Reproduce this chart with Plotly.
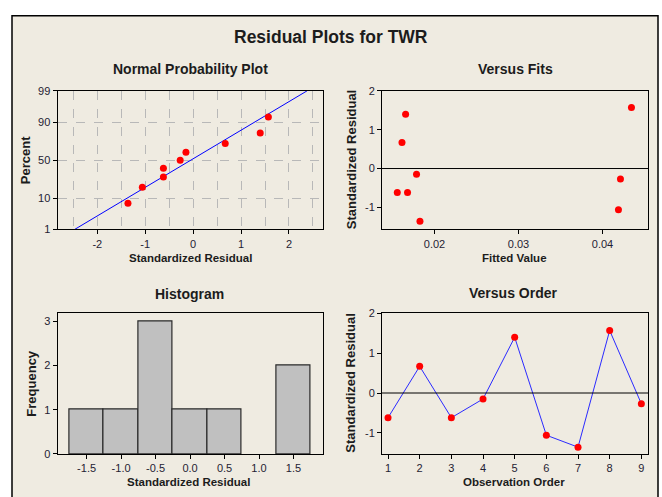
import numpy as np
import plotly.graph_objects as go
from statistics import NormalDist

# ---------------- data ----------------
order = [1, 2, 3, 4, 5, 6, 7, 8, 9]
residuals = [-0.62, 0.67, -0.62, -0.15, 1.40, -1.06, -1.36, 1.57, -0.27]
fitted = [0.01557, 0.01613, 0.01679, 0.01786, 0.01656, 0.04190, 0.01827, 0.04345, 0.04214]
percent_positions = [7.4, 18.1, 28.7, 39.4, 50.0, 60.6, 71.3, 81.9, 92.6]
prob_ticks = [1, 10, 50, 90, 99]
npp_ticks = [-2, -1, 0, 1, 2]
fit_ticks = [0.02, 0.03, 0.04]
resid_ticks = [-1, 0, 1, 2]
hist_ticks = [-1.5, -1.0, -0.5, 0.0, 0.5, 1.0, 1.5]
freq_ticks = [0, 1, 2, 3]

W, H = 662, 497
def fx(px): return px / W
def fy(py): return 1 - py / H

nd = NormalDist()
z = lambda p: nd.inv_cdf(p / 100.0)

FONT = "Liberation Sans"
TXT = "#1c1c1c"
TICKC = "#1f2233"

fig = go.Figure()

# Normal probability plot
sres = sorted(residuals)
zpts = [z(p) for p in percent_positions]
mu = float(np.mean(residuals)); sd = float(np.std(residuals, ddof=1))
zlo, zhi = z(prob_ticks[0]), z(prob_ticks[-1])
fig.add_trace(go.Scatter(x=[mu + sd * zlo, mu + sd * zhi], y=[zlo, zhi], mode="lines",
                         line=dict(color="#0000ff", width=1), xaxis="x", yaxis="y"))
fig.add_trace(go.Scatter(x=sres, y=zpts, mode="markers",
                         marker=dict(color="#ff0000", size=7), xaxis="x", yaxis="y"))

# Versus fits
fig.add_trace(go.Scatter(x=fitted, y=residuals, mode="markers",
                         marker=dict(color="#ff0000", size=7), xaxis="x2", yaxis="y2"))

# Histogram
fig.add_trace(go.Histogram(x=residuals, xbins=dict(start=-1.75, end=1.75, size=0.5),
                           autobinx=False,
                           marker=dict(color="#c0c0c0", line=dict(color="#2a2a2a", width=1.2)),
                           xaxis="x3", yaxis="y3"))

# Versus order
fig.add_trace(go.Scatter(x=order, y=residuals, mode="lines+markers",
                         line=dict(color="#2a2aff", width=1),
                         marker=dict(color="#ff0000", size=7), xaxis="x4", yaxis="y4"))

common = dict(showline=True, linecolor="#000000", linewidth=1, mirror=True,
              ticks="outside", ticklen=4, tickcolor="#000000",
              tickfont=dict(family=FONT, size=11, color=TICKC), zeroline=False)

def lab(vals, fmt="{:g}"):
    return [fmt.format(v).replace("\u2212", "-") for v in vals]

top = [fy(229), fy(87)]
bot = [fy(459), fy(315)]
left = [fx(57.5), fx(323)]
right = [fx(382), fx(648)]
GRID = dict(showgrid=True, gridcolor="#b8b8b8", griddash="dash", gridwidth=1)

fig.update_layout(
    width=W, height=H, margin=dict(l=0, r=0, t=0, b=0),
    paper_bgcolor="#ffffff", plot_bgcolor="#ffffff", showlegend=False, bargap=0,
    xaxis=dict(domain=left, anchor="y", range=[-2.83, 2.71],
               tickvals=npp_ticks, ticktext=lab(npp_ticks),
               minor=dict(dtick=0.5, tick0=0, showgrid=True, gridcolor="#b8b8b8", griddash="dash", ticks=""),
               **GRID, **common),
    yaxis=dict(domain=top, anchor="x", range=[zlo, zhi],
               tickvals=[z(p) for p in prob_ticks], ticktext=[str(p) for p in prob_ticks],
               **GRID, **common),
    xaxis2=dict(domain=right, anchor="y2", range=[0.01375, 0.04542], showgrid=False,
                tickvals=fit_ticks, ticktext=lab(fit_ticks, "{:.2f}"), **common),
    yaxis2=dict(domain=top, anchor="x2", range=[-1.57, 2.0], showgrid=False,
                tickvals=resid_ticks, ticktext=lab(resid_ticks), **common),
    xaxis3=dict(domain=left, anchor="y3", range=[-1.922, 1.928], showgrid=False,
                tickvals=hist_ticks, ticktext=lab(hist_ticks, "{:.1f}"), **common),
    yaxis3=dict(domain=bot, anchor="x3", range=[0, 3.18], showgrid=False,
                tickvals=freq_ticks, ticktext=lab(freq_ticks), **common),
    xaxis4=dict(domain=right, anchor="y4", range=[0.81, 9.21], showgrid=False,
                tickvals=order, ticktext=lab(order), **common),
    yaxis4=dict(domain=bot, anchor="x4", range=[-1.53, 2.0], showgrid=False,
                tickvals=resid_ticks, ticktext=lab(resid_ticks), **common),
)

# frame background
fig.add_shape(type="rect", xref="paper", yref="paper", x0=fx(12), x1=fx(658), y0=-0.05, y1=fy(10),
              fillcolor="#efebe1", line=dict(color="#000000", width=1.5), layer="below")

# zero reference lines
for xa, ya in (("x2", "y2"), ("x4", "y4")):
    fig.add_shape(type="line", xref=f"{xa} domain", yref=ya, x0=0, x1=1, y0=0, y1=0,
                  line=dict(color="#000000", width=1))

def ann(text, x, y, size, angle=0):
    fig.add_annotation(text=f"<b>{text}</b>", x=fx(x), y=fy(y), xref="paper", yref="paper",
                       showarrow=False, textangle=angle, xanchor="center", yanchor="middle",
                       font=dict(family=FONT, size=size, color=TXT))

ann("Residual Plots for TWR", 331, 32, 17.5)
ann("Normal Probability Plot", 190, 65, 14)
ann("Versus Fits", 515, 65, 14)
ann("Histogram", 189, 295, 14)
ann("Versus Order", 513, 294, 14)
ann("Standardized Residual", 190, 258, 11.5)
ann("Fitted Value", 514, 258, 11.5)
ann("Standardized Residual", 188, 488, 11.5)
ann("Observation Order", 514, 488, 11.5)
ann("Percent", 25, 158, 13, -90)
ann("Frequency", 32, 387, 13, -90)
ann("Standardized Residual", 351, 158, 13, -90)
ann("Standardized Residual", 351, 387, 13, -90)

fig.write_html("out.html")
